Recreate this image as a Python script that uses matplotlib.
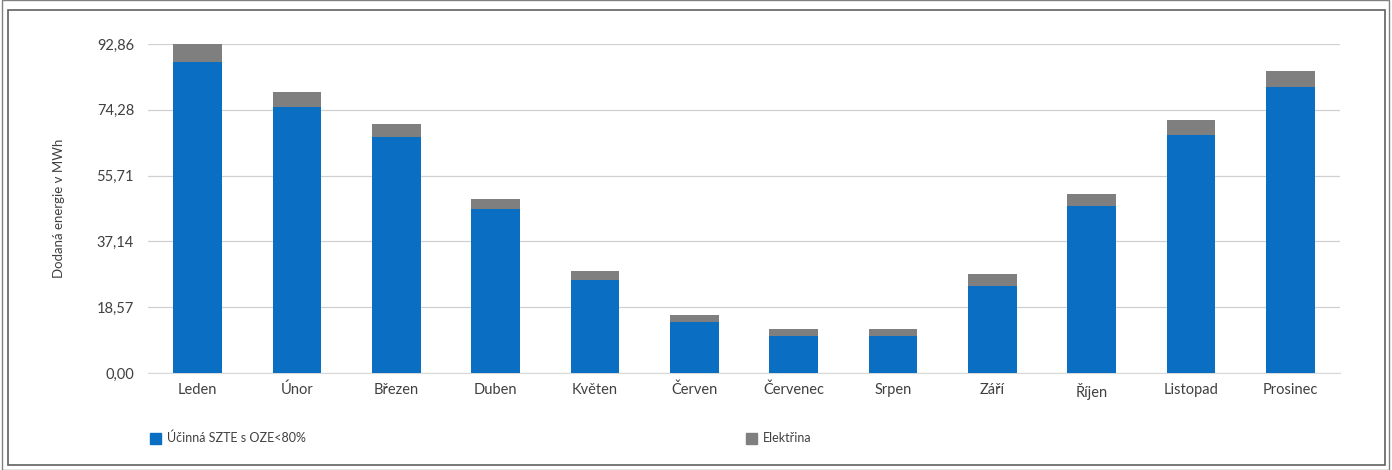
import matplotlib
matplotlib.use("Agg")
import matplotlib.pyplot as plt
from matplotlib.patches import Rectangle
import numpy as np

months = ["Leden", "Únor", "Březen", "Duben", "Květen", "Červen", "Červenec",
          "Srpen", "Září", "Říjen", "Listopad", "Prosinec"]
szte = [87.8, 75.1, 66.6, 46.3, 26.2, 14.5, 10.5, 10.5, 24.6, 47.1, 67.2, 80.6]
elektrina = [5.06, 4.2, 3.7, 2.8, 2.6, 1.9, 1.9, 1.9, 3.3, 3.4, 4.2, 4.7]
yticks = [0.0, 18.57, 37.14, 55.71, 74.28, 92.86]
series_names = ["Účinná SZTE s OZE<80%", "Elektřina"]

plt.rcParams['font.family'] = ['Lato', 'DejaVu Sans']

W, H = 1392, 470
fig = plt.figure(figsize=(W / 100, H / 100), dpi=100)
ax = fig.add_axes([148 / W, 1 - 373 / H, (1340 - 148) / W, (373 - 44) / H])

x = np.arange(len(months))
blue = "#0A6FC2"
gray = "#7F7F7F"
ax.bar(x, szte, width=0.49, color=blue, zorder=3, label=series_names[0])
ax.bar(x, elektrina, width=0.49, bottom=szte, color=gray, zorder=3, label=series_names[1])

ax.set_xlim(-0.5, len(months) - 0.5)
ax.set_ylim(0, 92.86)
ax.set_yticks(yticks)
ax.set_yticklabels([f"{v:.2f}".replace(".", ",") for v in yticks], fontsize=10.5, color="#404040")
ax.set_xticks(x)
ax.set_xticklabels(months, fontsize=10.5, color="#404040")
ax.tick_params(axis="y", length=0, pad=10)
ax.tick_params(axis="x", length=0, pad=7)
ax.grid(axis="y", color="#D0D0D0", linewidth=0.9, zorder=0)
for s in ["top", "right", "left"]:
    ax.spines[s].set_visible(False)
ax.spines["bottom"].set_color("#D9D9D9")
ax.set_ylabel("Dodaná energie v MWh", fontsize=9.5, color="#404040")
ax.yaxis.set_label_coords(-0.070, 0.5)

# legend markers drawn as separate entries
fig.patches.append(Rectangle((150 / W, 1 - 444 / H), 11 / W, 11 / H,
                             transform=fig.transFigure, color=blue))
fig.text(167 / W, 1 - 438 / H, series_names[0], fontsize=9, color="#404040", va="center")
fig.patches.append(Rectangle((746 / W, 1 - 444 / H), 11 / W, 11 / H,
                             transform=fig.transFigure, color=gray))
fig.text(763 / W, 1 - 438 / H, series_names[1], fontsize=9, color="#404040", va="center")

# outer border
fig.patches.append(Rectangle((8 / W, 1 - 465 / H), (1385 - 8) / W, (465 - 10) / H,
                             transform=fig.transFigure, fill=False,
                             edgecolor="#606060", linewidth=1.2))
fig.patches.append(Rectangle((2 / W, 0), (1389 - 2) / W, 1,
                             transform=fig.transFigure, fill=False,
                             edgecolor="#808080", linewidth=1.0))

fig.savefig("out.png", dpi=100)
